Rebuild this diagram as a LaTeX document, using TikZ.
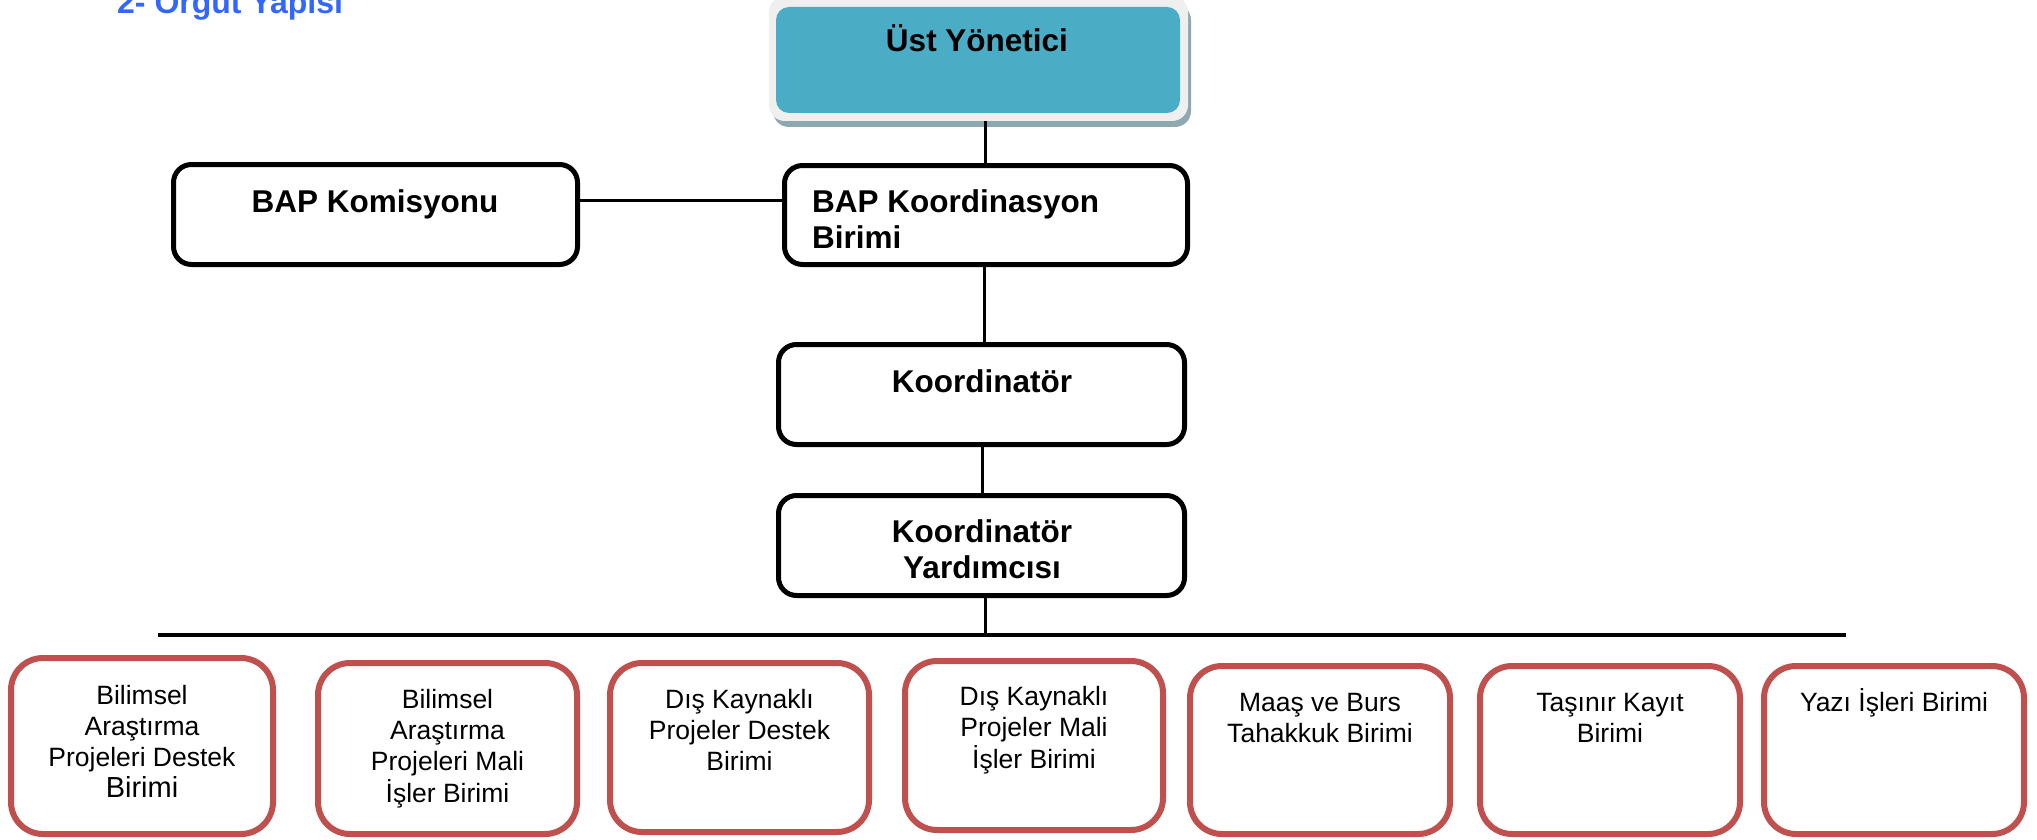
\documentclass[tikz,border=0pt]{standalone}
\usepackage{fontspec}
\setmainfont{Liberation Sans}
\definecolor{titleblue}{HTML}{3366FF}
\definecolor{tealfill}{HTML}{4BACC6}
\definecolor{tealshadow}{HTML}{8DA8AF}
\definecolor{lightedge}{HTML}{EFEFEF}
\definecolor{unitred}{HTML}{C0504D}
\tikzset{
  blackbox/.style={draw=black, line width=5pt, rounded corners=18pt, fill=white, inner sep=0pt},
  redbox/.style={draw=unitred, line width=6pt, rounded corners=32pt, fill=white, inner sep=0pt},
  boldlabel/.style={inner sep=0pt, font=\fontsize{31.5}{36}\selectfont\bfseries},
  unitlabel/.style={inner sep=0pt, anchor=base, font=\fontsize{26.5}{31}\selectfont},
  conn/.style={line width=3pt, black},
  bar/.style={line width=4pt, black}
}
\begin{document}
\begin{tikzpicture}[x=1pt,y=-1pt]
\useasboundingbox (0,0) rectangle (2037,840);
% title (cut at the top)
\node[inner sep=0pt, anchor=base west, text=titleblue, font=\fontsize{32}{36}\selectfont\bfseries] (title) at (117,13.5) {2- Örgüt Yapısı};
% top box with light edge and shadow
\fill[tealshadow, rounded corners=16pt] (773,4) rectangle (1191,127);
\fill[lightedge, rounded corners=16pt] (769,-4) rectangle (1188,121);
\node[fill=tealfill, rounded corners=13pt, minimum width=404pt, minimum height=106pt, inner sep=0pt] (top) at (978,60) {};
\node[boldlabel, anchor=base] (toplbl) at (977,52) {Üst Yönetici};
% black boxes
\node[blackbox, minimum width=404pt, minimum height=100pt] (kom) at (375.5,214.5) {};
\node[blackbox, minimum width=403pt, minimum height=99pt] (bkb) at (986,215) {};
\node[blackbox, minimum width=406pt, minimum height=100pt] (koord) at (981.5,394.5) {};
\node[blackbox, minimum width=406pt, minimum height=100pt] (yard) at (981.5,545.5) {};
\node[boldlabel, anchor=base] (komlbl) at (375,212) {BAP Komisyonu};
\node[boldlabel, anchor=base west] (bkblbl) at (812,212) {\begin{tabular}[t]{@{}l@{}}BAP Koordinasyon\\Birimi\end{tabular}};
\node[boldlabel, anchor=base] (koordlbl) at (982,392) {Koordinatör};
\node[boldlabel, anchor=base] (yardlbl) at (982,542) {\begin{tabular}[t]{@{}c@{}}Koordinatör\\Yardımcısı\end{tabular}};
% connectors
\coordinate (topfoot) at (985,121);
\draw[conn] (topfoot) -- (topfoot |- bkb.north);
\coordinate (komjoin) at (kom.east |- 0,200);
\draw[conn] (komjoin) -- (komjoin -| bkb.west);
\coordinate (bkbfoot) at (bkb.south -| 984,0);
\draw[conn] (bkbfoot) -- (bkbfoot |- koord.north);
\coordinate (koordfoot) at (koord.south -| 982,0);
\draw[conn] (koordfoot) -- (koordfoot |- yard.north);
\coordinate (barL) at (158,635);
\coordinate (barR) at (1846,635);
\coordinate (yardfoot) at (yard.south -| 985,0);
\draw[conn] (yardfoot) -- (yardfoot |- barL);
\draw[bar] (barL) -- (barR);
% unit boxes
\node[redbox, minimum width=262pt, minimum height=176pt] (u1) at (142,746) {};
\node[redbox, minimum width=259pt, minimum height=171pt] (u2) at (447.5,748.5) {};
\node[redbox, minimum width=259pt, minimum height=169pt] (u3) at (739.5,747.5) {};
\node[redbox, minimum width=258pt, minimum height=169pt] (u4) at (1034,745.5) {};
\node[redbox, minimum width=260pt, minimum height=168pt] (u5) at (1320,750) {};
\node[redbox, minimum width=260pt, minimum height=168pt] (u6) at (1610,750) {};
\node[redbox, minimum width=260pt, minimum height=168pt] (u7) at (1894,750) {};
\node[unitlabel] (u1lbl) at (142,704) {\begin{tabular}[t]{@{}c@{}}Bilimsel\\Araştırma\\Projeleri Destek\\{\fontsize{29}{31}\selectfont Birimi}\end{tabular}};
\node[unitlabel] (u2lbl) at (447.5,708) {\begin{tabular}[t]{@{}c@{}}Bilimsel\\Araştırma\\Projeleri Mali\\İşler Birimi\end{tabular}};
\node[unitlabel] (u3lbl) at (739.5,708) {\begin{tabular}[t]{@{}c@{}}Dış Kaynaklı\\Projeler Destek\\Birimi\end{tabular}};
\node[unitlabel] (u4lbl) at (1034,705) {\begin{tabular}[t]{@{}c@{}}Dış Kaynaklı\\Projeler Mali\\İşler Birimi\end{tabular}};
\node[unitlabel] (u5lbl) at (1320,711) {\begin{tabular}[t]{@{}c@{}}Maaş ve Burs\\Tahakkuk Birimi\end{tabular}};
\node[unitlabel] (u6lbl) at (1610,711) {\begin{tabular}[t]{@{}c@{}}Taşınır Kayıt\\Birimi\end{tabular}};
\node[unitlabel] (u7lbl) at (1894,711) {Yazı İşleri Birimi};
\end{tikzpicture}
\end{document}
